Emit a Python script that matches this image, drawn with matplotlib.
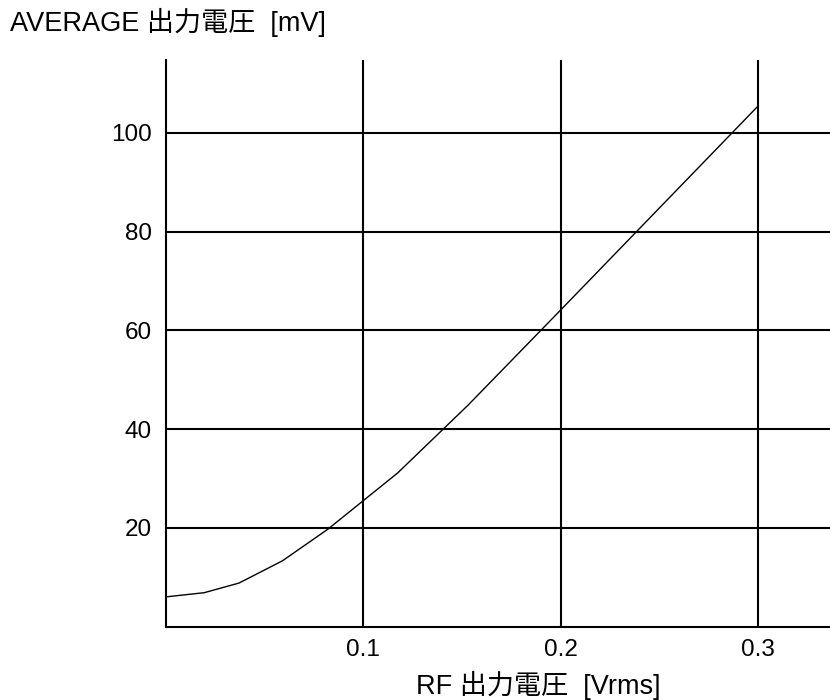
import matplotlib
matplotlib.use("Agg")
import matplotlib.pyplot as plt

plt.rcParams['font.family'] = ['Liberation Sans', 'Noto Sans CJK JP', 'DejaVu Sans']

rf_vrms = [0.0, 0.0194, 0.037, 0.059, 0.082, 0.1174, 0.153, 0.2, 0.3]
avg_mv = [6.0, 6.85, 8.8, 13.3, 19.7, 31.1, 44.8, 64.1, 105.4]
x_ticks = [0.1, 0.2, 0.3]
x_tick_labels = ["0.1", "0.2", "0.3"]
y_ticks = [20, 40, 60, 80, 100]
y_tick_labels = ["20", "40", "60", "80", "100"]

fig = plt.figure(figsize=(8.3, 7.0), dpi=100)
ax = fig.add_axes([0.2, 0.105, 0.8, 0.809])
ax.plot(rf_vrms, avg_mv, color='black', linewidth=1.0, zorder=3)
ax.set_xlim(0, 0.3365)
ax.set_ylim(0, 114.7)
ax.set_xticks(x_ticks)
ax.set_xticklabels(x_tick_labels)
ax.set_yticks(y_ticks)
ax.set_yticklabels(y_tick_labels)
ax.grid(True, color='black', linewidth=1.5)
ax.tick_params(axis='y', length=0, labelsize=17.5, pad=10)
ax.tick_params(axis='x', length=0, labelsize=17.5, pad=9)
for s in ['top', 'right']:
    ax.spines[s].set_visible(False)
for s in ['left', 'bottom']:
    ax.spines[s].set_linewidth(1.5)

fig.text(10/830, 1 - 22/700, "AVERAGE 出力電圧  [mV]", fontsize=19.5, ha='left', va='center')
fig.text(538/830, 1 - 685/700, "RF 出力電圧  [Vrms]", fontsize=19.5, ha='center', va='center')

fig.savefig("out.png", dpi=100)
